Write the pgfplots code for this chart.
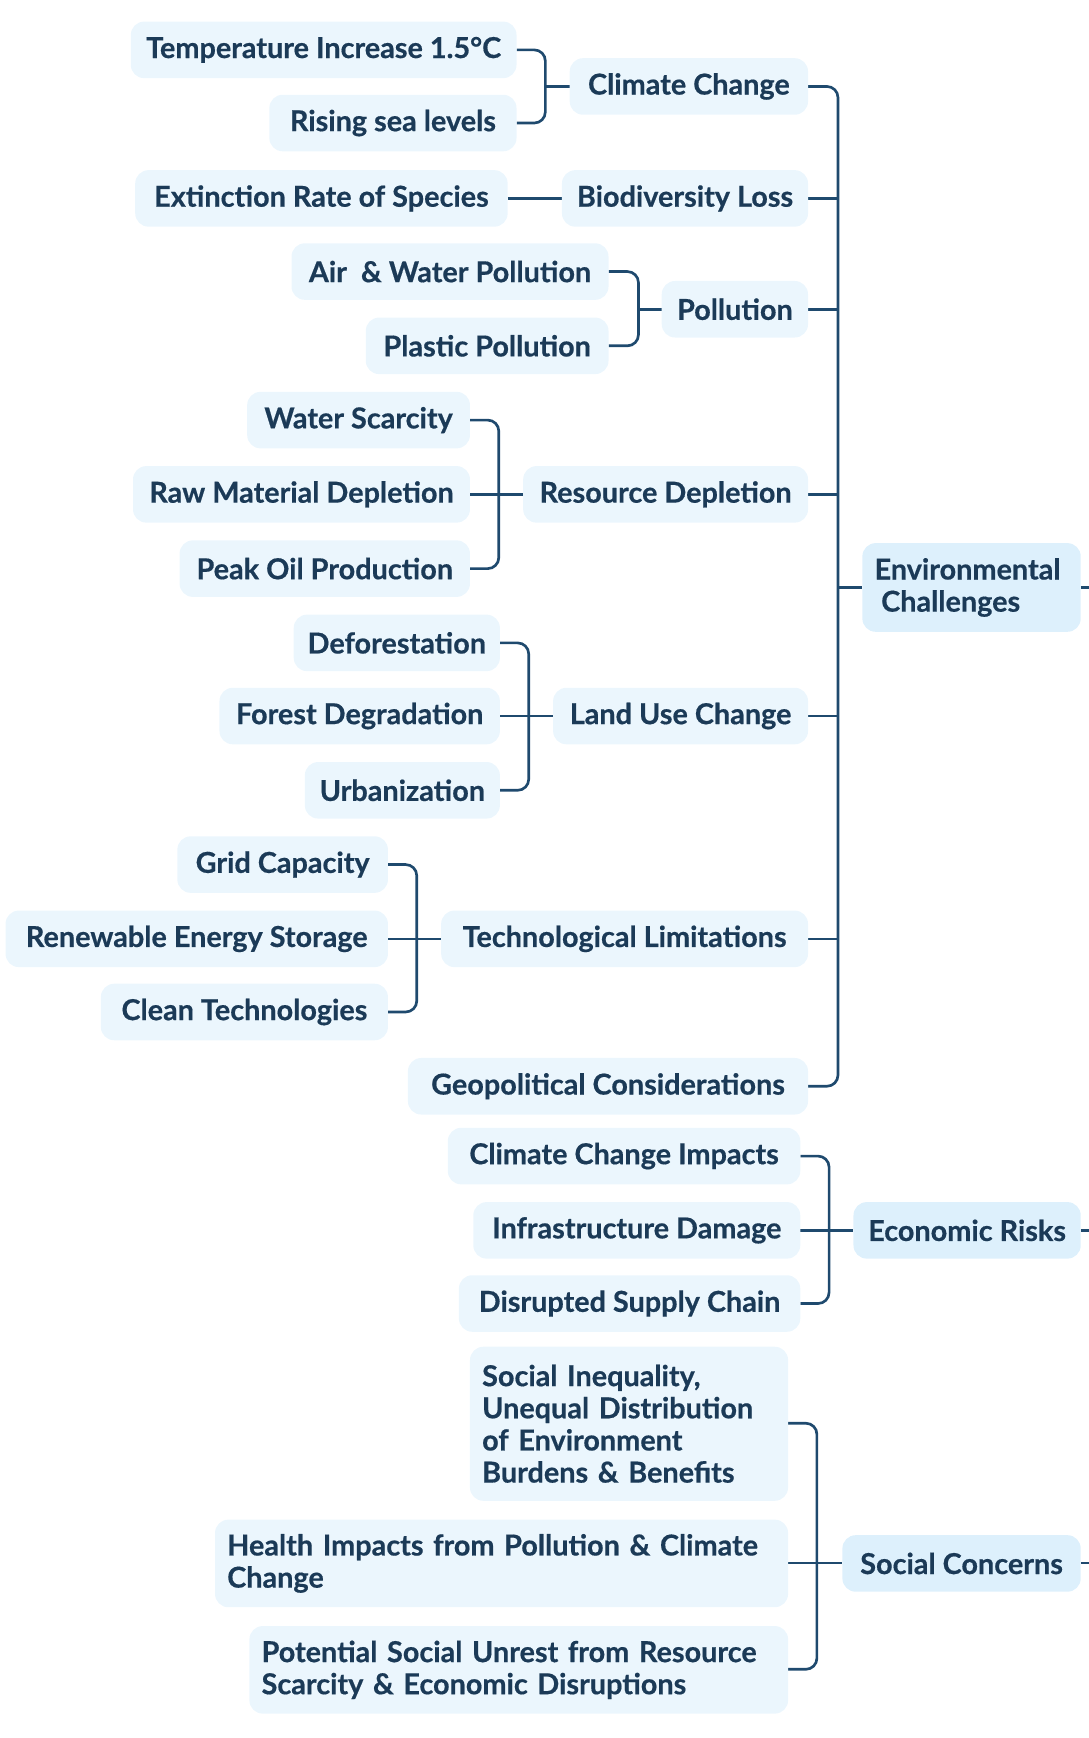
\documentclass[border=0pt]{standalone}
\usepackage{pgfplots}
\pgfplotsset{compat=1.18}
\usepackage{fontspec}
\setmainfont{Lato}[BoldFeatures={FakeBold=0.5}]
\definecolor{boxc}{HTML}{EBF6FD}
\definecolor{rootc}{HTML}{DDF0FC}
\definecolor{txt}{HTML}{1B3A57}
\definecolor{lnc}{HTML}{1F4A6E}
\tikzset{
  bx/.style={rounded corners=6pt, fill=boxc, text=txt, inner xsep=5.5pt, inner ysep=0pt,
    align=left, font=\fontsize{13}{14.5}\selectfont\bfseries, anchor=center},
  rt/.style={bx, fill=rootc},
}
\pgfplotsset{cn/.style={draw=lnc,line width=1.2pt,mark=none,rounded corners=5pt}}
\begin{document}
\begin{tikzpicture}
\begin{axis}[width=491pt,height=784pt,scale only axis,
  xmin=0,xmax=982,ymin=0,ymax=1568,y dir=reverse,hide axis,clip=false]
% connectors
\addplot[cn] coordinates {(466,45)(492,45)(492,111)(466,111)};
\addplot[cn] coordinates {(492,78)(514,78)};
\addplot[cn] coordinates {(458,179)(507,179)};
\addplot[cn] coordinates {(549,245)(576,245)(576,312)(549,312)};
\addplot[cn] coordinates {(576,279)(597,279)};
\addplot[cn] coordinates {(424,379)(450,379)(450,513)(424,513)};
\addplot[cn] coordinates {(424,446)(472,446)};
\addplot[cn] coordinates {(451,580)(477,580)(477,713)(451,713)};
\addplot[cn] coordinates {(451,646)(499,646)};
\addplot[cn] coordinates {(350,780)(376,780)(376,913)(350,913)};
\addplot[cn] coordinates {(350,847)(398,847)};
\addplot[cn] coordinates {(729,78)(756,78)(756,980)(729,980)};
\addplot[cn] coordinates {(729,179)(756,179)};
\addplot[cn] coordinates {(729,279)(756,279)};
\addplot[cn] coordinates {(729,446)(756,446)};
\addplot[cn] coordinates {(729,646)(756,646)};
\addplot[cn] coordinates {(729,847)(756,847)};
\addplot[cn] coordinates {(756,530)(778,530)};
\addplot[cn] coordinates {(975,530)(995,530)};
\addplot[cn] coordinates {(722,1043)(748,1043)(748,1176)(722,1176)};
\addplot[cn] coordinates {(722,1110)(770,1110)};
\addplot[cn] coordinates {(975,1110)(995,1110)};
\addplot[cn] coordinates {(711,1284)(737,1284)(737,1506)(711,1506)};
\addplot[cn] coordinates {(711,1410)(760,1410)};
\addplot[cn] coordinates {(975,1410)(995,1410)};
% boxes
\node[bx,minimum width=174pt,minimum height=25.5pt] at (axis cs:292,45) {Temperature Increase 1.5°C};
\node[bx,minimum width=111.5pt,minimum height=25.5pt] at (axis cs:354.5,111) {Rising sea levels};
\node[bx,minimum width=107.5pt,minimum height=25.5pt] at (axis cs:621.5,78) {Climate Change};
\node[bx,minimum width=168pt,minimum height=25.5pt] at (axis cs:290,179) {Extinction Rate of Species};
\node[bx,minimum width=111pt,minimum height=25.5pt] at (axis cs:618,179) {Biodiversity Loss};
\node[bx,minimum width=143pt,minimum height=25.5pt] at (axis cs:406,245) {Air\ \ \& Water Pollution};
\node[bx,minimum width=109.5pt,minimum height=25.5pt] at (axis cs:439.5,312) {Plastic Pollution};
\node[bx,minimum width=66pt,minimum height=25.5pt] at (axis cs:663,279) {Pollution};
\node[bx,minimum width=100.5pt,minimum height=25.5pt] at (axis cs:323.5,379) {Water Scarcity};
\node[bx,minimum width=152pt,minimum height=25.5pt] at (axis cs:272,446) {Raw Material Depletion};
\node[bx,minimum width=131pt,minimum height=25.5pt] at (axis cs:293,513) {Peak Oil Production};
\node[bx,minimum width=128.5pt,minimum height=25.5pt] at (axis cs:600.5,446) {Resource Depletion};
\node[rt,text width=87.5pt,minimum height=40pt] at (axis cs:876.5,530) {Environmental\\\hspace{3pt}Challenges};
\node[bx,minimum width=93pt,minimum height=25.5pt] at (axis cs:358,580) {Deforestation};
\node[bx,minimum width=126.5pt,minimum height=25.5pt] at (axis cs:324.5,646) {Forest Degradation};
\node[bx,minimum width=88pt,minimum height=25.5pt] at (axis cs:363,713) {Urbanization};
\node[bx,minimum width=115pt,minimum height=25.5pt] at (axis cs:614,646) {Land Use Change};
\node[bx,minimum width=95pt,minimum height=25.5pt] at (axis cs:255,780) {Grid Capacity};
\node[bx,minimum width=172.5pt,minimum height=25.5pt] at (axis cs:177.5,847) {Renewable Energy Storage};
\node[bx,minimum width=129.5pt,minimum height=25.5pt] at (axis cs:220.5,913) {Clean Technologies};
\node[bx,minimum width=165.5pt,minimum height=25.5pt] at (axis cs:563.5,847) {Technological Limitations};
\node[bx,minimum width=180.5pt,minimum height=25.5pt] at (axis cs:548.5,980) {Geopolitical Considerations};
\node[bx,minimum width=159pt,minimum height=25.5pt] at (axis cs:563,1043) {Climate Change Impacts};
\node[bx,minimum width=147.5pt,minimum height=25.5pt] at (axis cs:574.5,1110) {Infrastructure Damage};
\node[bx,minimum width=154pt,minimum height=25.5pt] at (axis cs:568,1176) {Disrupted Supply Chain};
\node[rt,minimum width=102.5pt,minimum height=25.5pt] at (axis cs:872.5,1110) {Economic Risks};
\node[bx,text width=132.5pt,minimum height=69.5pt] at (axis cs:567.5,1284.5) {Social Inequality,\\Unequal Distribution\\of Environment\\Burdens \& Benefits};
\node[bx,text width=247.5pt,minimum height=39.5pt] at (axis cs:452.5,1410.5) {Health Impacts from Pollution \& Climate\\Change};
\node[bx,text width=232pt,minimum height=39.5pt] at (axis cs:468,1506.5) {Potential Social Unrest from Resource\\Scarcity \& Economic Disruptions};
\node[rt,minimum width=107.5pt,minimum height=25.5pt] at (axis cs:867.5,1410.5) {Social Concerns};
\end{axis}
\pgfresetboundingbox
\path[use as bounding box] (current axis.south west) rectangle (current axis.north east);
\end{tikzpicture}
\end{document}
